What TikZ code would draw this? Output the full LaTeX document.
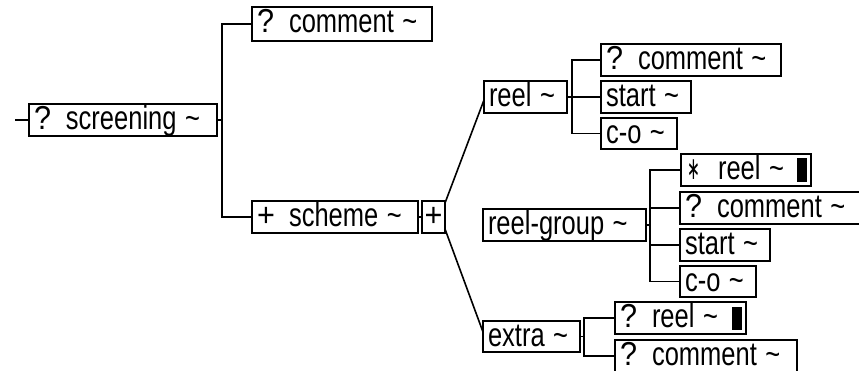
\documentclass[tikz,border=0pt]{standalone}
\usepackage{fontspec}
\setmainfont{Liberation Sans}
\newfontfamily\symfont{DejaVu Sans}
\usepackage{graphicx}

% vertically stretched label text
\newcommand\vs[1]{\scalebox{1}[1.3]{#1}}
% occurrence marker in front of an element name
\newcommand\mk[1]{\makebox[32pt][l]{\scalebox{1.2}[1]{#1}}}
\newcommand\tl{\textasciitilde}
\newcommand\many{\hspace{1pt}\scalebox{0.6}[0.95]{\symfont ∗}}

% \treebox[options]{name}{x1}{y1}{x2}{y2}{text}
\newcommand\treebox[7][]{%
  \pgfmathsetmacro\tbw{#5-#3-10}%
  \pgfmathsetmacro\tbd{#6-#4-25.7}%
  \node[box,text width=\tbw pt,text height=25.7pt,text depth=\tbd pt,#1] (#2) at (#3,#4) {\vs{#7}};}

\begin{document}
\begin{tikzpicture}[x=1pt,y=-1pt,line width=1.6pt,
  box/.style={draw,inner xsep=5pt,inner ysep=0pt,outer sep=0pt,anchor=north west,
              align=left,font=\fontsize{25.5}{25.5}\selectfont},
  link/.style={draw,line width=1.6pt},
  bar/.style={fill=black}]
\clip (0,0) rectangle (859,370);

% element boxes
\treebox{screening}{29}{104}{217}{136}{\mk{?}screening \tl}
\treebox{comment1}{252}{7}{432}{41}{\mk{?}comment \tl}
\treebox{scheme}{252}{201}{418}{233}{\mk{+}scheme \tl}
\treebox[inner xsep=0pt,align=center]{plus}{422}{201}{455}{233}{\scalebox{1.2}[1]{+}}
\treebox{reel}{484}{81}{567}{113}{reel \tl}
\treebox{rcomment}{601}{44}{781}{76}{\mk{?}comment \tl}
\treebox{rstart}{601}{81}{691}{113}{start \tl}
\treebox{rco}{601}{118}{677}{149}{c-o \tl}
\treebox{rgroup}{483}{209}{646}{241}{reel-group \tl}
\treebox{gstar}{681}{154}{811}{186}{\makebox[32pt][l]{\many}reel \tl}
\treebox{gcomment}{680}{192}{870}{224}{\mk{?}comment \tl}
\treebox{gstart}{680}{229}{770}{261}{start \tl}
\treebox{gco}{680}{266}{756}{297}{c-o \tl}
\treebox{extra}{483}{321}{580}{352}{extra \tl}
\treebox{ereel}{615}{302}{746}{334}{\mk{?}reel \tl}
\treebox{ecomment}{615}{340}{797}{372}{\mk{?}comment \tl}

% reference bars
\fill[bar] ([xshift=-4pt,yshift=-4pt]gstar.north east) rectangle ++(-10,24);
\fill[bar] ([xshift=-4pt,yshift=-4.5pt]ereel.north east) rectangle ++(-10,23);

% junction points
\coordinate (rootin) at (15,120);
\coordinate (j0) at (222,120);
\coordinate (j1) at (572,97);
\coordinate (j2) at (650,225);
\coordinate (j3) at (584,336.5);

% connectors
\path[link] (rootin) -- (screening.west);
\path[link] (screening.east) -- (j0);
\path[link] (j0) |- (comment1.west);
\path[link] (j0) |- (scheme.west);
\path[link] (scheme.east) -- (plus.west);
\path[link] ([yshift=-2pt]plus.north east) -- ([yshift=-3pt]reel.west);
\path[link] ([yshift=4pt]plus.south east) -- ([yshift=4.5pt]extra.west);

\path[link] (reel.east) -- (j1);
\path[link] (j1) |- (rcomment.west);
\path[link] (j1) |- (rstart.west);
\path[link] (j1) |- (rco.west);

\path[link] (rgroup.east) -- (j2);
\path[link] (j2) |- (gstar.west);
\path[link] (j2) |- (gcomment.west);
\path[link] (j2) |- (gstart.west);
\path[link] (j2) |- (gco.west);

\path[link] (extra.east) -- (j3);
\path[link] (j3) |- (ereel.west);
\path[link] (j3) |- (ecomment.west);
\end{tikzpicture}
\end{document}
